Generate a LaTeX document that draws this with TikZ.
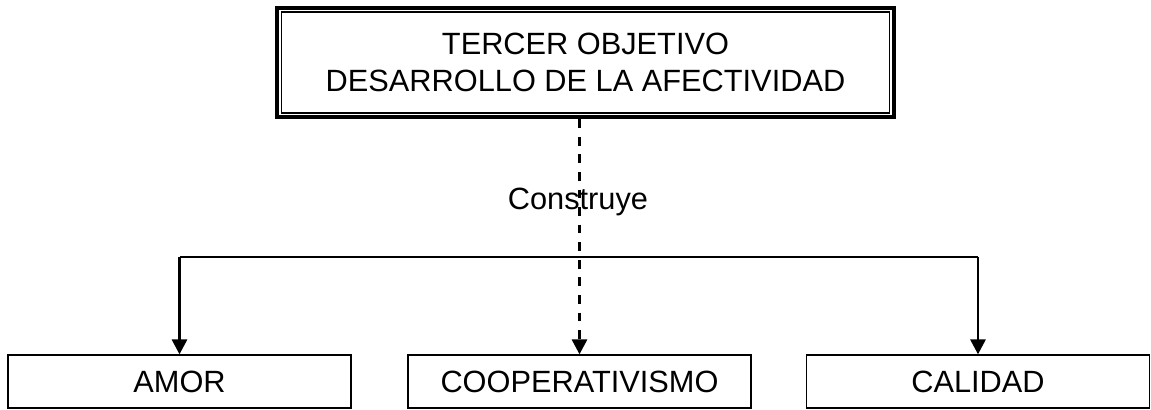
\documentclass[tikz,border=0pt]{standalone}
\usepackage{fontspec}
\setmainfont{Liberation Sans}
\usetikzlibrary{arrows.meta,calc,fit,positioning}
\newcommand{\diagfont}{\fontsize{17.5}{21.5}\selectfont}
\tikzset{
  goal box/.style={draw,line width=.8pt,minimum width=12.16cm,minimum height=2.02cm,
    align=center,font=\diagfont,inner sep=0pt},
  goal frame/.style={draw,line width=2.3pt,inner sep=.07cm},
  value box/.style={draw,line width=.7pt,minimum width=6.86cm,minimum height=1.06cm,
    font=\diagfont,inner sep=0pt},
  branch/.style={line width=.9pt},
  branch arrow/.style={line width=1.7pt,-{Triangle[length=8.5pt,width=8.5pt]}},
  link arrow/.style={line width=1.7pt,dash pattern=on 5pt off 5pt,
    -{Triangle[length=8.5pt,width=8.5pt]}},
  link label/.style={font=\diagfont,inner sep=1pt}
}

\begin{document}
\begin{tikzpicture}[line join=miter]
  \useasboundingbox (0,0) rectangle (23.02,8.20);
  % The objective, with its double frame.
  \node[goal box] (obj) at (11.71,6.95) {TERCER OBJETIVO\\DESARROLLO DE LA AFECTIVIDAD};
  \node[goal frame,fit=(obj)] (objframe) {};

  % The three values it builds.
  \node[value box] (amor)    at ( 3.59,0.57) {AMOR};
  \node[value box] (coop)    at (11.59,0.57) {COOPERATIVISMO};
  \node[value box] (calidad) at (19.56,0.57) {CALIDAD};

  \coordinate (bar) at (11.59,3.06);
  \draw[branch] (amor.north |- bar) -- (calidad.north |- bar);
  \draw[branch arrow] (amor.north |- bar) -- (amor.north);
  \draw[branch arrow] (calidad.north |- bar) -- (calidad.north);

  \draw[link arrow] (objframe.south -| coop.north) -- (coop.north);
  \node[link label] (construye) at (11.56,4.16) {Construye};
\end{tikzpicture}
\end{document}
